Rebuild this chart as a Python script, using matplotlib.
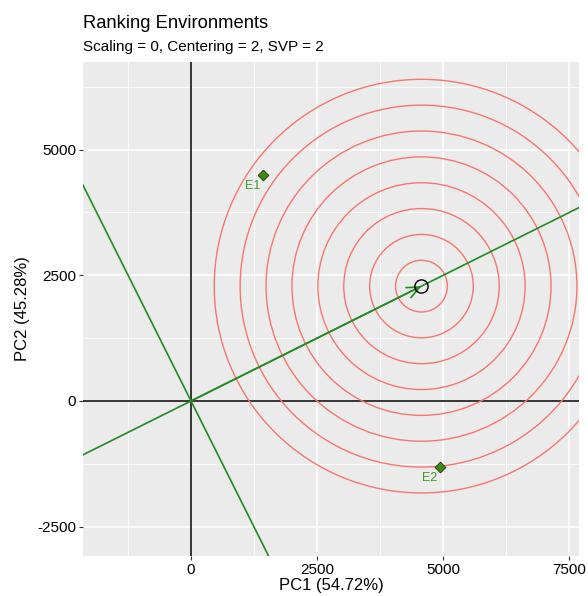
import numpy as np
import matplotlib
matplotlib.use('Agg')
import matplotlib.pyplot as plt
from matplotlib.patches import Circle

plt.rcParams['font.family'] = ['Liberation Sans', 'DejaVu Sans']
plt.rcParams['axes.unicode_minus'] = False

# ── Data ───────────────────────────────────────────────────────────────────
env_names = ['E1', 'E2']
env_pc1 = [1429, 4940]
env_pc2 = [4493, -1312]
ring_radii = [514, 1028, 1542, 2056, 2570, 3084, 3598, 4112]
x_ticks = [0, 2500, 5000, 7500]
y_ticks = [-2500, 0, 2500, 5000]
x_minor = [-1250, 1250, 3750, 6250]
y_minor = [-1250, 1250, 3750, 6250]
xlim = (-2143, 7698)
ylim = (-3082, 6750)
pc1_var = 54.72
pc2_var = 45.28

green = '#228B22'
ring_col = '#F8766D'

# Average environment axis and ideal environment (GGE "ranking environments")
env = np.column_stack([env_pc1, env_pc2]).astype(float)
mean_env = env.mean(axis=0)
unit = mean_env / np.linalg.norm(mean_env)
ideal = unit * np.linalg.norm(env, axis=1).max()

fig = plt.figure(figsize=(5.88, 5.96), dpi=100)
ax = fig.add_axes([83 / 588, 40 / 596, 496 / 588, 494.5 / 596])
ax.set_facecolor('#EBEBEB')
for s in ax.spines.values():
    s.set_visible(False)

ax.set_xlim(*xlim)
ax.set_ylim(*ylim)
ax.set_xticks(x_ticks)
ax.set_yticks(y_ticks)
ax.set_xticks(x_minor, minor=True)
ax.set_yticks(y_minor, minor=True)
ax.grid(which='major', color='white', linewidth=1.1)
ax.grid(which='minor', color='white', linewidth=0.55)
ax.set_axisbelow(True)
ax.tick_params(which='major', length=3, width=0.8, color='#333333',
               labelsize=11, labelcolor='black', pad=2)
ax.tick_params(which='minor', length=0)

# origin axes
ax.axhline(0, color='black', linewidth=1.1, zorder=2)
ax.axvline(0, color='black', linewidth=1.1, zorder=2)

# concentric rings around the ideal environment
for r in ring_radii:
    ax.add_patch(Circle(ideal, r, fill=False, edgecolor=ring_col,
                        linewidth=1.0, zorder=3))

# average environment axis and its perpendicular
ax.axline((0, 0), tuple(unit), color=green, linewidth=1.2, zorder=4)
ax.axline((0, 0), (-unit[1], unit[0]), color=green, linewidth=1.2, zorder=4)
ax.annotate('', xy=tuple(ideal), xytext=(0, 0),
            arrowprops=dict(arrowstyle='->,head_length=0.9,head_width=0.4',
                            color=green, linewidth=1.2, shrinkA=0, shrinkB=0),
            zorder=4)
ax.plot(ideal[0], ideal[1], marker='o', markersize=9.5, markerfacecolor='none',
        markeredgecolor='black', markeredgewidth=1.0, zorder=5)

# environments
ax.scatter(env_pc1, env_pc2, marker='D', s=30, facecolor='#3d8b0f',
           edgecolor='#1a3300', linewidth=0.6, zorder=6)
for name, x, y in zip(env_names, env_pc1, env_pc2):
    ax.annotate(name, (x, y), xytext=(-10, -11), textcoords='offset pixels',
                ha='center', va='center', fontsize=9, color='#3f9a2a', zorder=6)

ax.set_xlabel(f'PC1 ({pc1_var:.2f}%)', fontsize=12, labelpad=1)
ax.set_ylabel(f'PC2 ({pc2_var:.2f}%)', fontsize=12, labelpad=5)

fig.text(83 / 588, 1 - 28 / 596, 'Ranking Environments', fontsize=13.2,
         va='baseline', ha='left')
fig.text(83 / 588, 1 - 50.5 / 596, 'Scaling = 0, Centering = 2, SVP = 2',
         fontsize=11, va='baseline', ha='left')

fig.savefig('out.png', dpi=100)
